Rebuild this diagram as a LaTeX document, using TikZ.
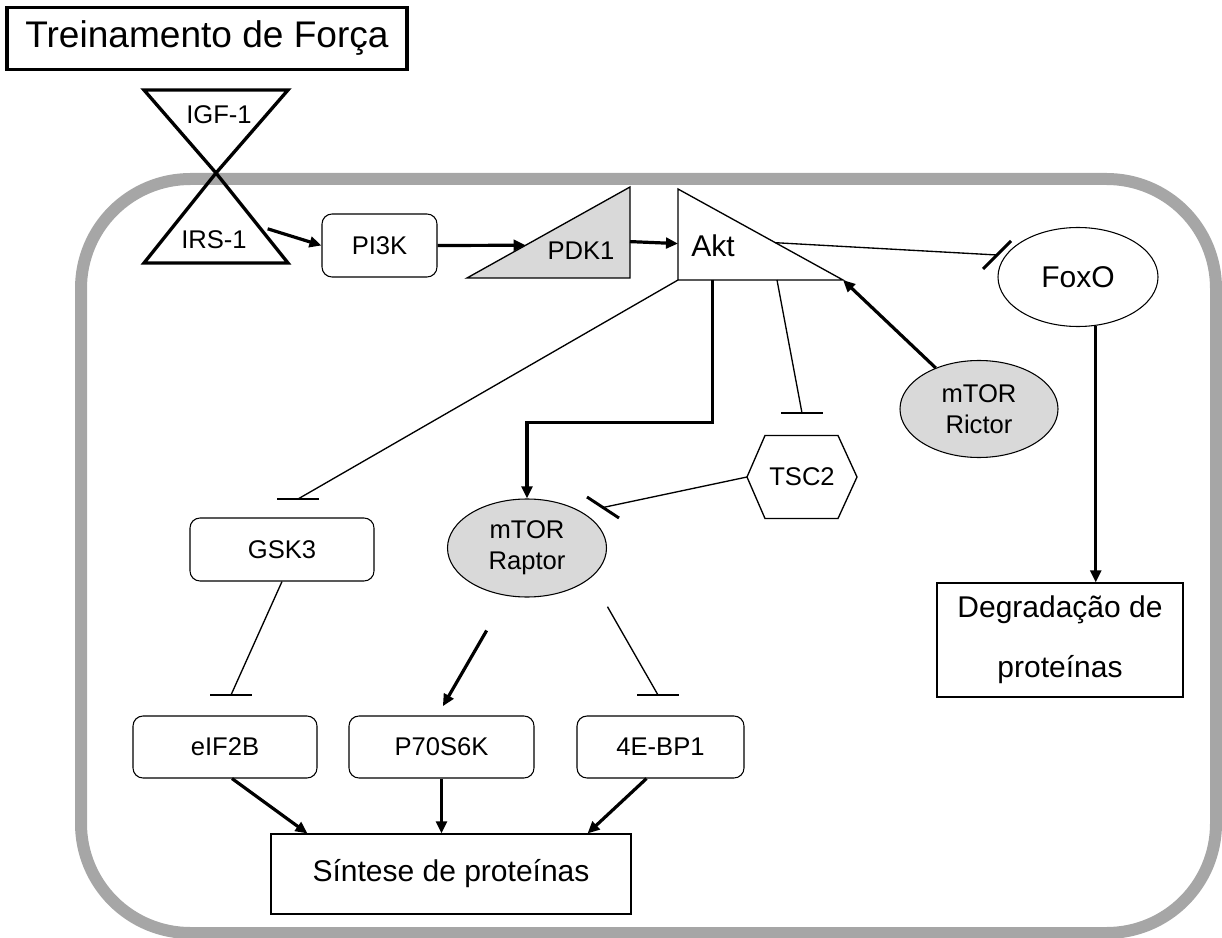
\documentclass[tikz,border=0pt]{standalone}
\usepackage{fontspec}
\setmainfont{Liberation Sans}
\usetikzlibrary{arrows.meta,shapes.geometric,calc}
\definecolor{cellgray}{HTML}{A6A6A6}
\definecolor{molgray}{HTML}{D9D9D9}
% T-bar of an inhibition, centred on #1, half vector (#2,#3)
\newcommand{\inhbar}[3]{\draw[tbar] ($(#1)-(#2,#3)$) -- ($(#1)+(#2,#3)$);}
\tikzset{
  txt/.style={font=\fontsize{19.2}{23}\selectfont},
  bigtxt/.style={font=\fontsize{22.5}{27}\selectfont},
  tribox/.style={inner sep=0pt, outer sep=0pt},
  rbox/.style={draw, line width=0.8pt, rounded corners=7.5pt, inner sep=0pt, txt},
  sbox/.style={draw, line width=0.8pt, inner sep=0pt, bigtxt},
  oval/.style={ellipse, draw, line width=0.8pt, inner sep=0pt, align=center, txt},
  act/.style={line width=2.4pt, -{Triangle[length=9pt, width=8pt]}},
  inh/.style={line width=1pt},
  tbar/.style={line width=2.2pt}
}
\begin{document}
\begin{tikzpicture}[x=0.75pt,y=-0.75pt]
  \useasboundingbox (0,0) rectangle (1222,938);
  % cell
  \draw[cellgray, line width=9pt, rounded corners=82pt] (81,179) rectangle (1216,933);

  \node[draw, line width=2.4pt, inner sep=0pt, minimum width=300pt, minimum height=47pt,
        font=\fontsize{27.8}{32}\selectfont] (treino) at (207,38.5) {Treinamento de Força};

  % receptor
  \node[tribox, minimum width=108pt, minimum height=62.25pt] (igf) at (216,131.5) {};
  \node[tribox, minimum width=108pt, minimum height=67.5pt] (irs) at (216,218) {};
  \draw[line width=2.5pt] (igf.north west) -- (igf.north east) -- (igf.south) -- cycle;
  \draw[line width=2.5pt] (irs.north) -- (irs.south east) -- (irs.south west) -- cycle;
  \node[txt] (igflbl) at (219,115) {IGF-1};
  \node[txt] (irslbl) at (214,240) {IRS-1};

  \node[rbox, minimum width=86.25pt, minimum height=47.25pt] (pi3k) at (379.5,245.5) {PI3K};

  \node[tribox, minimum width=122.25pt, minimum height=68.25pt] (pdk) at (548.5,232.5) {};
  \draw[fill=molgray, line width=1pt] (pdk.south west) -- (pdk.north east) -- (pdk.south east) -- cycle;
  \node[txt] (pdklbl) at (581,251) {PDK1};

  \node[tribox, minimum width=123.75pt, minimum height=68.25pt] (akt) at (760.5,234.5) {};
  \draw[fill=white, line width=1pt] (akt.north west) -- (akt.south east) -- (akt.south west) -- cycle;
  \node[bigtxt] (aktlbl) at (713,246) {Akt};

  \node[oval, bigtxt, minimum width=120pt, minimum height=74.25pt] (foxo) at (1078,277) {FoxO};
  \node[oval, fill=molgray, minimum width=118.5pt, minimum height=72.75pt] (rictor) at (979,409) {mTOR\\Rictor};
  \node[oval, fill=molgray, minimum width=119.25pt, minimum height=73.5pt] (raptor) at (527,548) {mTOR\\Raptor};

  \node[tribox, txt, minimum width=82.5pt, minimum height=62.25pt] (tsc2) at (802,477) {TSC2};
  \draw[line width=1pt] (tsc2.west) -- ($(tsc2.north west)+(18,0)$) -- ($(tsc2.north east)-(19,0)$)
    -- (tsc2.east) -- ($(tsc2.south east)-(19,0)$) -- ($(tsc2.south west)+(18,0)$) -- cycle;

  \node[rbox, minimum width=138pt, minimum height=47.25pt] (gsk3) at (282,549.5) {GSK3};
  \node[rbox, minimum width=138pt, minimum height=46.5pt] (eif2b) at (225,747) {eIF2B};
  \node[rbox, minimum width=138.75pt, minimum height=46.5pt] (p70) at (441.5,747) {P70S6K};
  \node[rbox, minimum width=125.25pt, minimum height=46.5pt] (ebp1) at (660.5,747) {4E-BP1};
  \node[sbox, minimum width=270pt, minimum height=60pt] (sintese) at (451,874) {Síntese de proteínas};
  \node[sbox, align=center, minimum width=184.5pt, minimum height=85.5pt] (degr) at (1060,640)
    {Degradação de\\[18pt]proteínas};

  % activation
  \draw[act] ($(irs.north)!0.62!(irs.south east)+(7,0)$) -- (pi3k.west);
  \draw[act] (pi3k.east) -- ($(pdk.south west)!0.36!(pdk.north east)$);
  \draw[act] ($(pdk.south east)!0.4!(pdk.north east)$) -- ($(akt.south west)!0.4!(akt.north west)$);
  \draw[act] ($(akt.south west)!0.21!(akt.south east)$) |- ($(raptor.north)+(0,-76)$) -- (raptor.north);
  \draw[act] (rictor) -- (akt.south east);
  \draw[act] (foxo.290) -- (foxo.290 |- degr.north);
  \draw[act, shorten <=30pt, shorten >=8pt] (raptor.247) -- ($(p70.north)+(-4,0)$);
  \draw[act] ($(eif2b.south)+(7,0)$) -- ($(sintese.north west)+(37,0)$);
  \draw[act] (p70.south) -- (p70.south |- sintese.north);
  \draw[act] ($(ebp1.south)-(14,0)$) -- ($(sintese.north east)-(44,0)$);

  % inhibition
  \coordinate (foxbar) at (997,255);
  \coordinate (gskbar) at (298,499);
  \coordinate (tscbar) at (802,413);
  \coordinate (rapbar) at (603,507.5);
  \coordinate (eifbar) at (231,695);
  \coordinate (ebpbar) at (658,695);
  \draw[inh] ($(akt.north west)!0.59!(akt.south east)$) -- (foxbar);
  \draw[inh] (akt.south west) -- (gskbar);
  \draw[inh] ($(akt.south west)!0.6!(akt.south east)$) -- (tscbar);
  \draw[inh] (tsc2.west) -- (rapbar);
  \draw[inh] (gsk3.south) -- (eifbar);
  \draw[inh, shorten <=25pt] (raptor.335) -- (ebpbar);
  \inhbar{foxbar}{14}{-14}
  \inhbar{gskbar}{21}{0}
  \inhbar{tscbar}{21}{0}
  \inhbar{rapbar}{16}{10.5}
  \inhbar{eifbar}{21}{0}
  \inhbar{ebpbar}{21}{0}
\end{tikzpicture}
\end{document}
